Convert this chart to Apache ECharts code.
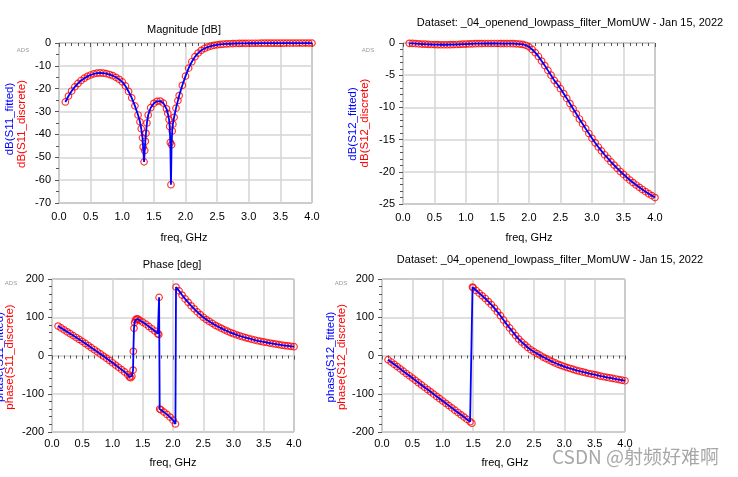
<!DOCTYPE html>
<html><head><meta charset="utf-8">
<script src="https://cdn.jsdelivr.net/npm/echarts@6/dist/echarts.min.js"></script>
<style>html,body{margin:0;padding:0;background:#fff}#c{width:738px;height:477px}</style>
</head><body><div id="c"></div>
<script>
// ---- Panel 1: Magnitude [dB] of S11 ----
const freqS11Mag = [0.1,0.15,0.2,0.25,0.3,0.35,0.4,0.45,0.5,0.55,0.6,0.65,0.7,0.75,0.8,0.85,0.9,0.95,1.0,1.05,1.1,1.15,1.2,1.25,1.28,1.3,1.32,1.33,1.345,1.355,1.365,1.375,1.39,1.41,1.45,1.5,1.55,1.6,1.65,1.7,1.72,1.74,1.75,1.76,1.77,1.78,1.79,1.8,1.82,1.85,1.88,1.9,1.95,2.0,2.05,2.1,2.15,2.2,2.25,2.3,2.35,2.4,2.45,2.5,2.55,2.6,2.65,2.7,2.75,2.8,2.85,2.9,2.95,3.0,3.05,3.1,3.15,3.2,3.25,3.3,3.35,3.4,3.45,3.5,3.55,3.6,3.65,3.7,3.75,3.8,3.85,3.9,3.95,4.0];
const s11MagDb = [-25.8,-23.2,-21.0,-19.2,-17.7,-16.4,-15.4,-14.6,-14.0,-13.5,-13.2,-13.1,-13.2,-13.4,-13.8,-14.3,-15.0,-15.9,-17.0,-18.8,-21.2,-24.0,-27.5,-31.5,-34.5,-37.5,-41.5,-45.5,-52,-47,-43,-39.5,-35,-31.5,-28.3,-26.4,-25.5,-25.4,-26.3,-28.8,-30.8,-33.5,-36.5,-43.5,-62,-44.5,-38.5,-35.5,-32.5,-28.5,-25.2,-23.0,-18.5,-14.5,-11.0,-8.2,-6.0,-4.4,-3.2,-2.4,-1.8,-1.35,-1.0,-0.78,-0.62,-0.5,-0.4,-0.32,-0.26,-0.21,-0.18,-0.15,-0.13,-0.12,-0.11,-0.1,-0.1,-0.09,-0.09,-0.08,-0.08,-0.08,-0.07,-0.07,-0.07,-0.06,-0.06,-0.06,-0.06,-0.05,-0.05,-0.05,-0.05,-0.05];

// ---- Panel 2: dB(S12) ----
const freqS12Mag = [0.1,0.15,0.2,0.25,0.3,0.35,0.4,0.45,0.5,0.55,0.6,0.65,0.7,0.75,0.8,0.85,0.9,0.95,1.0,1.05,1.1,1.15,1.2,1.25,1.3,1.35,1.4,1.45,1.5,1.55,1.6,1.65,1.7,1.75,1.8,1.85,1.9,1.95,2.0,2.05,2.1,2.15,2.2,2.25,2.3,2.35,2.4,2.45,2.5,2.55,2.6,2.65,2.7,2.75,2.8,2.85,2.9,2.95,3.0,3.05,3.1,3.15,3.2,3.25,3.3,3.35,3.4,3.45,3.5,3.55,3.6,3.65,3.7,3.75,3.8,3.85,3.9,3.95,4.0];
const s12MagDb = [-0.05,-0.07,-0.1,-0.13,-0.16,-0.19,-0.21,-0.23,-0.25,-0.26,-0.27,-0.27,-0.27,-0.26,-0.25,-0.23,-0.21,-0.19,-0.17,-0.15,-0.13,-0.11,-0.1,-0.09,-0.08,-0.08,-0.08,-0.08,-0.08,-0.09,-0.09,-0.1,-0.1,-0.11,-0.13,-0.16,-0.22,-0.35,-0.6,-1.0,-1.5,-2.1,-2.8,-3.5,-4.25,-5.0,-5.8,-6.4,-7.1,-7.85,-8.6,-9.4,-10.2,-11.0,-11.8,-12.55,-13.3,-14.05,-14.8,-15.5,-16.15,-16.75,-17.35,-17.9,-18.45,-18.95,-19.45,-19.95,-20.4,-20.85,-21.27,-21.67,-22.05,-22.41,-22.75,-23.08,-23.4,-23.7,-24.0];

// ---- Panel 3: Phase [deg] of S11 ----
const freqS11Ph = [0.1,0.15,0.2,0.25,0.3,0.35,0.4,0.45,0.5,0.55,0.6,0.65,0.7,0.75,0.8,0.85,0.9,0.95,1.0,1.05,1.1,1.15,1.2,1.25,1.28,1.3,1.32,1.34,1.345,1.355,1.365,1.38,1.4,1.42,1.45,1.5,1.55,1.6,1.65,1.7,1.75,1.765,1.77,1.78,1.8,1.85,1.9,1.95,2.0,2.04,2.05,2.1,2.15,2.2,2.25,2.3,2.35,2.4,2.45,2.5,2.55,2.6,2.65,2.7,2.75,2.8,2.85,2.9,2.95,3.0,3.05,3.1,3.15,3.2,3.25,3.3,3.35,3.4,3.45,3.5,3.55,3.6,3.65,3.7,3.75,3.8,3.85,3.9,3.95,4.0];
const s11PhDeg = [77,72,67,62,57,52,47,42,37,31.5,26,20.5,15,9.5,4,-1.5,-7,-13,-19,-25,-31,-37,-43,-50,-56,-58,-54,-38,11,71,86,93,96,95,92,87,82,76,70,64,57,55,152,-140,-142,-148,-154,-161,-169,-179,179,169,158,148,139,130,122,114,107,100,94,89,84,79,75,71,67,63.5,60,57,54,51.5,49,46.5,44.5,42.5,40.5,38.5,37,35.5,34,32.5,31,30,28.5,27,26,25,24,23];

// ---- Panel 4: phase(S12) ----
const freqS12Ph = [0.1,0.15,0.2,0.25,0.3,0.35,0.4,0.45,0.5,0.55,0.6,0.65,0.7,0.75,0.8,0.85,0.9,0.95,1.0,1.05,1.1,1.15,1.2,1.25,1.3,1.35,1.4,1.45,1.48,1.49,1.5,1.55,1.6,1.65,1.7,1.75,1.8,1.85,1.9,1.95,2.0,2.05,2.1,2.15,2.2,2.25,2.3,2.35,2.4,2.45,2.5,2.55,2.6,2.65,2.7,2.75,2.8,2.85,2.9,2.95,3.0,3.05,3.1,3.15,3.2,3.25,3.3,3.35,3.4,3.45,3.5,3.55,3.6,3.65,3.7,3.75,3.8,3.85,3.9,3.95,4.0];
const s12PhDeg = [-11,-17,-23,-29,-35,-41,-47,-53,-59,-65,-71,-77,-83,-89,-95,-101,-107,-113,-119,-125,-131,-137,-143,-149,-155,-161,-167,-173,-177,179,177,170,163,156,149,141,133,124,114,104,93,82,72,62,52,43,35,28,21,15,10,5,1,-4,-8,-12,-16,-19.5,-23,-26,-29,-31.5,-34,-36.5,-39,-41,-43,-45,-47,-48.5,-50,-52,-54,-55.5,-57,-58.5,-60,-61.5,-63,-64.5,-66];

// axis ranges / tick labels
const xRange = [0, 4, 0.5];
const yRanges = [[-70, 0, 10, 2], [-25, 0, 5, 5], [-200, 200, 100, 5], [-200, 200, 100, 5]];

const panelTitles = ['Magnitude [dB]', 'Dataset: _04_openend_lowpass_filter_MomUW - Jan 15, 2022', 'Phase [deg]', 'Dataset: _04_openend_lowpass_filter_MomUW - Jan 15, 2022'];
const fittedNames = ['dB(S11_fitted)', 'dB(S12_fitted)', 'phase(S11_fitted)', 'phase(S12_fitted)'];
const discreteNames = ['dB(S11_discrete)', 'dB(S12_discrete)', 'phase(S11_discrete)', 'phase(S12_discrete)'];
const xName = 'freq, GHz';

const FONT = '"Liberation Sans", Arial, sans-serif';
const grids = [
  {left: 59, top: 43, width: 253, height: 160},
  {left: 403, top: 43, width: 252, height: 161},
  {left: 52, top: 279, width: 242, height: 153},
  {left: 382, top: 279, width: 243, height: 153}
];
const xLabelMargin = [8, 8, 6, 6];
const freqs = [freqS11Mag, freqS12Mag, freqS11Ph, freqS12Ph];
const vals = [s11MagDb, s12MagDb, s11PhDeg, s12PhDeg];

function zip(f, v) { return f.map((x, i) => [x, v[i]]); }

const xAxes = grids.map((g, i) => ({
  gridIndex: i, type: 'value', min: xRange[0], max: xRange[1], interval: xRange[2],
  axisLine: {show: false},
  axisTick: {show: true, inside: false, length: 4, lineStyle: {color: '#555'}},
  minorTick: {show: true, splitNumber: 5, length: 3, lineStyle: {color: '#555'}},
  splitLine: {show: true, lineStyle: {color: '#d4d4d4', width: 1.5}},
  axisLabel: {color: '#000', fontSize: 11, fontFamily: FONT, margin: xLabelMargin[i], formatter: v => v.toFixed(1)}
}));
const yAxes = grids.map((g, i) => ({
  gridIndex: i, type: 'value', min: yRanges[i][0], max: yRanges[i][1], interval: yRanges[i][2],
  axisLine: {show: false},
  axisTick: {show: true, inside: false, length: 4, lineStyle: {color: '#555'}},
  minorTick: {show: true, splitNumber: yRanges[i][3], length: 3, lineStyle: {color: '#555'}},
  splitLine: {show: true, lineStyle: {color: '#d4d4d4', width: 1.5}},
  axisLabel: {color: '#000', fontSize: 11, fontFamily: FONT, margin: 8}
}));

const series = [];
grids.forEach((g, i) => {
  const d = zip(freqs[i], vals[i]);
  series.push({
    type: 'scatter', name: discreteNames[i], xAxisIndex: i, yAxisIndex: i, data: d,
    symbol: 'circle', symbolSize: 6.5, z: 2, silent: true,
    itemStyle: {color: 'rgba(0,0,0,0)', borderColor: '#ff0000', borderWidth: 1.2}
  });
  series.push({
    type: 'line', name: fittedNames[i], xAxisIndex: i, yAxisIndex: i, data: d,
    showSymbol: false, z: 3, silent: true,
    lineStyle: {color: '#0000ff', width: 1.8}
  });
});

function txt(text, x, y, opts) {
  opts = opts || {};
  return {
    type: 'text', x: x, y: y, rotation: opts.rot || 0, z: 10, silent: true,
    style: {
      text: text, fill: opts.fill || '#000',
      font: (opts.size || 11) + 'px ' + (opts.family || FONT),
      textAlign: opts.align || 'center', textVerticalAlign: 'middle',
      align: opts.align || 'center', verticalAlign: 'middle'
    }
  };
}
const R = Math.PI / 2;
const graphics = [
  txt(panelTitles[0], 184, 30),
  txt(panelTitles[1], 570, 23),
  txt(panelTitles[2], 172, 265),
  txt(panelTitles[3], 550, 260),
  txt(xName, 184, 238),
  txt(xName, 529, 238),
  txt(xName, 173, 463),
  txt(xName, 505, 463),
  txt(fittedNames[0], 10, 119, {rot: R, fill: '#0000ff', size: 11.5}),
  txt(discreteNames[0], 22, 124, {rot: R, fill: '#ff0000', size: 11.5}),
  txt(fittedNames[1], 353, 124, {rot: R, fill: '#0000ff', size: 11.5}),
  txt(discreteNames[1], 365, 123, {rot: R, fill: '#ff0000', size: 11.5}),
  txt(fittedNames[2], 0, 357, {rot: R, fill: '#0000ff', size: 11.5}),
  txt(discreteNames[2], 10, 357, {rot: R, fill: '#ff0000', size: 11.5}),
  txt(fittedNames[3], 331, 357, {rot: R, fill: '#0000ff', size: 11.5}),
  txt(discreteNames[3], 342, 357, {rot: R, fill: '#ff0000', size: 11.5}),
  txt('ADS', 23, 50, {fill: '#999', size: 6}),
  txt('ADS', 368, 50, {fill: '#999', size: 6}),
  txt('ADS', 11, 283, {fill: '#999', size: 6}),
  txt('ADS', 341, 283, {fill: '#999', size: 6}),
  txt('CSDN @射频好难啊', 552, 457, {align: 'left', fill: 'rgba(130,130,130,0.7)', size: 19, family: '"Noto Sans CJK SC", "Noto Sans", sans-serif'})
];

const chart = echarts.init(document.getElementById('c'), null, {renderer: 'canvas'});
chart.setOption({
  animation: false,
  backgroundColor: '#fff',
  textStyle: {fontFamily: FONT},
  grid: grids.map(g => Object.assign({show: true, borderColor: '#6a6a6a', borderWidth: 1, backgroundColor: 'transparent', containLabel: false}, g)),
  xAxis: xAxes,
  yAxis: yAxes,
  series: series,
  graphic: {elements: graphics}
});
</script>
</body></html>
